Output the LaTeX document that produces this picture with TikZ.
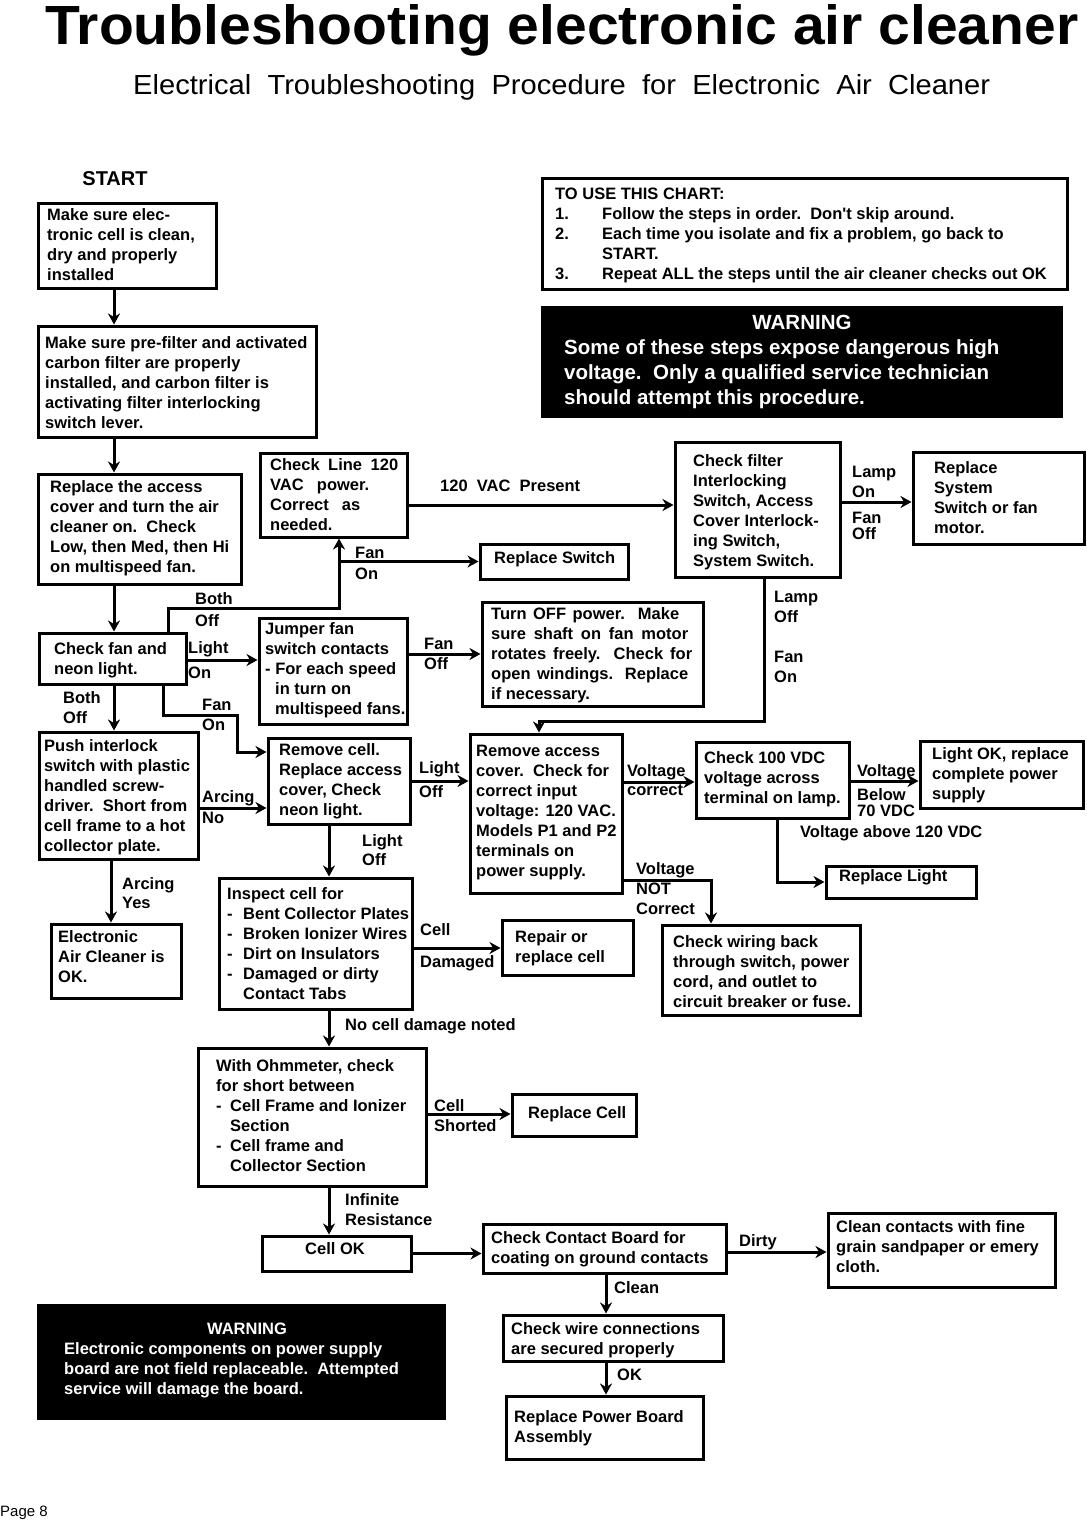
\documentclass[tikz,border=0pt]{standalone}
\usepackage{fontspec}
\setmainfont{Liberation Sans}
\usepackage{graphicx}
\usetikzlibrary{arrows.meta,fit}

\begin{document}
\begin{tikzpicture}[x=1pt,y=-1pt,
	kasten/.style={draw,line width=3pt,inner sep=0pt},
	warnkasten/.style={fill=black,inner sep=0pt},
	inhalt/.style={anchor=north west,yshift=14pt,inner sep=0pt,align=left,
		font=\fontsize{16.5}{20}\selectfont\bfseries},
	marke/.style={inhalt},
	warntext/.style={inhalt,text=white},
	warntitel/.style={anchor=base,inner sep=0pt,text=white},
	pfeil/.style={line width=3pt,-{Stealth[length=11pt,width=12pt,inset=3.5pt]}}]

\useasboundingbox (0,0) rectangle (1087,1521);
\fill[white] (0,0) rectangle (1087,1521);

\def\kasten#1#2#3#4#5#6#7#8{
	\node[kasten,fit={(#2,#3) (#4,#5)}] (#1) {};
	\node[inhalt] (#1-text) at (#6,#7) {\strut#8};
}

\def\marke#1#2#3#4{
	\node[marke] (#1) at (#2,#3) {\strut#4};
}

\def\strich#1{\makebox[#1][l]{-}}

% Titel
\node[anchor=base west,inner sep=0pt] (titel) at (45,44)
	{\resizebox{1033pt}{40pt}{\bfseries Troubleshooting electronic air cleaner}};
\node[anchor=base west,inner sep=0pt] (untertitel) at (133,94)
	{\resizebox{857pt}{20pt}{Electrical\ \ Troubleshooting\ \ Procedure\ \ for\ \ Electronic\ \ Air\ \ Cleaner}};
\node[anchor=base,inner sep=0pt,font=\fontsize{20}{24}\selectfont\bfseries] (start) at (115,185) {START};

% Hinweise
\kasten{kuse}{542}{178}{1067}{289}{555}{199}{TO USE THIS CHART:\\
	\makebox[47pt][l]{1.}Follow the steps in order.\ \ Don\textquotesingle t skip around.\\
	\makebox[47pt][l]{2.}Each time you isolate and fix a problem, go back to\\
	\hspace*{47pt}START.\\
	\makebox[47pt][l]{3.}Repeat ALL the steps until the air cleaner checks out OK}

\node[warnkasten,fit={(541,306) (1063,418)}] (warn1) {};
\node[warntitel,font=\fontsize{20.5}{25}\selectfont\bfseries] (warn1-titel) at (802,329) {WARNING};
\node[warntext,yshift=3.5pt,font=\fontsize{20.5}{25}\selectfont\bfseries] (warn1-text) at (564,354)
	{\strut Some of these steps expose dangerous high\\voltage.\ \ Only a qualified service technician\\should attempt this procedure.};

\node[warnkasten,fit={(37,1304) (446,1420)}] (warn2) {};
\node[warntitel,font=\fontsize{16.5}{20}\selectfont\bfseries] (warn2-titel) at (247,1334) {WARNING};
\node[warntext] (warn2-text) at (64,1354)
	{\strut Electronic components on power supply\\board are not field replaceable.\ \ Attempted\\service will damage the board.};

% Kaesten
\kasten{k1}{38}{203}{216}{288}{47}{220}{Make sure elec-\\tronic cell is clean,\\dry and properly\\installed}
\kasten{k2}{38}{326}{316}{437}{45}{348}{Make sure pre-filter and activated\\carbon filter are properly\\installed, and carbon filter is\\activating filter interlocking\\switch lever.}
\kasten{k3}{38}{474}{241}{584}{50}{492}{Replace the access\\cover and turn the air\\cleaner on.\ \ Check\\Low, then Med, then Hi\\on multispeed fan.}
\kasten{kline}{260}{453}{407}{537}{270}{470}{\makebox[128pt][s]{Check Line 120}\\\makebox[99pt][s]{VAC power.}\\\makebox[90pt][s]{Correct as}\\needed.}
\kasten{kfan}{39}{633}{186}{684}{54}{654}{Check fan and\\neon light.}
\kasten{kjump}{259}{618}{407}{724}{265}{634}{Jumper fan\\switch contacts\\- For each speed\\\hspace*{10pt}in turn on\\\hspace*{10pt}multispeed fans.}
\kasten{kswitch}{480}{544}{628}{579}{494}{563}{Replace Switch}
\kasten{kfilter}{675}{442}{840}{577}{693}{466}{Check filter\\Interlocking\\Switch, Access\\Cover Interlock-\\ing Switch,\\System Switch.}
\kasten{ksystem}{913}{452}{1084}{544}{934}{473}{Replace\\System\\Switch or fan\\motor.}
\kasten{koff}{482}{602}{703}{706}{491}{619}{\makebox[188pt][s]{Turn OFF power.\ \ Make}\\\makebox[197pt][s]{sure shaft on fan motor}\\\makebox[201pt][s]{rotates freely. Check for}\\\makebox[197pt][s]{open windings. Replace}\\if necessary.}
\kasten{kpush}{39}{732}{198}{859}{44}{751}{Push interlock\\switch with plastic\\handled screw-\\driver.\ \ Short from\\cell frame to a hot\\collector plate.}
\kasten{kok}{51}{924}{181}{998}{58}{942}{Electronic\\Air Cleaner is\\OK.}
\kasten{kcell}{268}{738}{410}{824}{279}{755}{Remove cell.\\Replace access\\cover, Check\\neon light.}
\kasten{kaccess}{470}{734}{622}{893}{476}{756}{Remove access\\cover.\ \ Check for\\correct input\\voltage: 120 VAC.\\Models P1 and P2\\terminals on\\power supply.}
\kasten{kvdc}{696}{742}{849}{818}{704}{763}{Check 100 VDC\\voltage across\\terminal on lamp.}
\kasten{klightok}{920}{741}{1083}{808}{932}{759}{Light OK, replace\\complete power\\supply}
\kasten{kreplight}{826}{866}{976}{898}{839}{881}{Replace Light}
\kasten{kwiring}{662}{925}{860}{1015}{673}{947}{Check wiring back\\through switch, power\\cord, and outlet to\\circuit breaker or fuse.}
\kasten{kinspect}{219}{878}{412}{1009}{227}{899}{Inspect cell for\\\strich{16pt}Bent Collector Plates\\\strich{16pt}Broken Ionizer Wires\\\strich{16pt}Dirt on Insulators\\\strich{16pt}Damaged or dirty\\\hspace*{16pt}Contact Tabs}
\kasten{krepair}{502}{920}{633}{975}{515}{942}{Repair or\\replace cell}
\kasten{kohm}{198}{1048}{426}{1186}{216}{1071}{With Ohmmeter, check\\for short between\\\strich{14pt}Cell Frame and Ionizer\\\hspace*{14pt}Section\\\strich{14pt}Cell frame and\\\hspace*{14pt}Collector Section}
\kasten{kreplcell}{512}{1094}{636}{1136}{528}{1118}{Replace Cell}
\kasten{kcellok}{262}{1236}{411}{1271}{305}{1254}{Cell OK}
\kasten{kcontact}{483}{1224}{726}{1273}{491}{1243}{Check Contact Board for\\coating on ground contacts}
\kasten{kclean}{828}{1213}{1055}{1287}{836}{1232}{Clean contacts with fine\\grain sandpaper or emery\\cloth.}
\kasten{kwire}{503}{1315}{723}{1361}{511}{1334}{Check wire connections\\are secured properly}
\kasten{kpower}{506}{1396}{703}{1459}{514}{1422}{Replace Power Board\\Assembly}

% Pfeile
\draw[pfeil] (k1.south -| 114,0) -- (k2.north -| 114,0);
\draw[pfeil] (k2.south -| 114,0) -- (k3.north -| 114,0);
\draw[pfeil] (k3.south -| 114,0) -- (kfan.north -| 114,0);
\draw[pfeil] (kfan.north -| 168,0) |- (339,608) -- (kline.south -| 339,0);
\draw[pfeil] (kswitch.west -| 339,0) -- (kswitch.west);
\draw[pfeil] (kline.east |- 0,505) -- (kfilter.west |- 0,505);
\draw[pfeil] (kfan.east |- 0,660) -- (kjump.west |- 0,660);
\draw[pfeil] (kfan.south -| 114,0) -- (kpush.north -| 114,0);
\draw[pfeil] (kfan.south -| 163,0) |- (237,715) |- (kcell.west |- 0,752);
\draw[pfeil] (kjump.east |- 0,654) -- (koff.west |- 0,654);
\draw[pfeil] (kfilter.south -| 764,0) |- (539,721) -- (kaccess.north -| 539,0);
\draw[pfeil] (kfilter.east |- 0,502) -- (ksystem.west |- 0,502);
\draw[pfeil] (kpush.east |- 0,808) -- (kcell.west |- 0,808);
\draw[pfeil] (kpush.south -| 111,0) -- (kok.north -| 111,0);
\draw[pfeil] (kcell.east |- 0,781) -- (kaccess.west |- 0,781);
\draw[pfeil] (kcell.south -| 329,0) -- (kinspect.north -| 329,0);
\draw[pfeil] (kaccess.east |- 0,782) -- (kvdc.west |- 0,782);
\draw[pfeil] (kaccess.east |- 0,880) -| (kwiring.north -| 711,0);
\draw[pfeil] (kvdc.east |- 0,781) -- (klightok.west |- 0,781);
\draw[pfeil] (kvdc.south -| 777,0) |- (kreplight.west);
\draw[pfeil] (kinspect.east |- 0,948) -- (krepair.west |- 0,948);
\draw[pfeil] (kinspect.south -| 329,0) -- (kohm.north -| 329,0);
\draw[pfeil] (kohm.east |- 0,1114) -- (kreplcell.west |- 0,1114);
\draw[pfeil] (kohm.south -| 329,0) -- (kcellok.north -| 329,0);
\draw[pfeil] (kcellok.east) -- (kcontact.west |- kcellok.east);
\draw[pfeil] (kcontact.east |- 0,1252) -- (kclean.west |- 0,1252);
\draw[pfeil] (kcontact.south -| 606,0) -- (kwire.north -| 606,0);
\draw[pfeil] (kwire.south -| 606,0) -- (kpower.north -| 606,0);

% Beschriftungen
\marke{m1}{195}{604}{Both\\[2pt]Off}
\marke{m2}{355}{558}{Fan\\[1pt]On}
\marke{m3}{440}{491}{120\ \ VAC\ \ Present}
\marke{m4}{188}{653}{Light\\[5pt]On}
\marke{m5}{63}{703}{Both\\Off}
\marke{m6}{202}{710}{Fan\\On}
\marke{m7}{424}{649}{Fan\\Off}
\marke{m8}{774}{602}{Lamp\\Off}
\marke{m9}{774}{662}{Fan\\On}
\marke{m10}{852}{477}{Lamp\\On}
\marke{m11}{852}{523}{Fan\\[-4pt]Off}
\marke{m12}{202}{802}{Arcing\\[1pt]No}
\marke{m13}{122}{889}{Arcing\\[-1pt]Yes}
\marke{m14}{419}{773}{Light\\[4pt]Off}
\marke{m15}{362}{846}{Light\\[-1pt]Off}
\marke{m16}{627}{776}{Voltage\\[-1pt]correct}
\marke{m17}{636}{874}{Voltage\\NOT\\Correct}
\marke{m18}{857}{776}{Voltage}
\marke{m19}{857}{800}{Below\\[-4pt]70 VDC}
\marke{m20}{800}{837}{Voltage above 120 VDC}
\marke{m21}{420}{935}{Cell}
\marke{m22}{420}{967}{Damaged}
\marke{m23}{345}{1030}{No cell damage noted}
\marke{m24}{434}{1111}{Cell\\Shorted}
\marke{m25}{345}{1205}{Infinite\\Resistance}
\marke{m26}{739}{1246}{Dirty}
\marke{m27}{614}{1293}{Clean}
\marke{m28}{617}{1380}{OK}

\node[anchor=base west,inner sep=0pt,font=\fontsize{15}{18}\selectfont] (seite) at (0,1516) {Page 8};

\end{tikzpicture}
\end{document}
